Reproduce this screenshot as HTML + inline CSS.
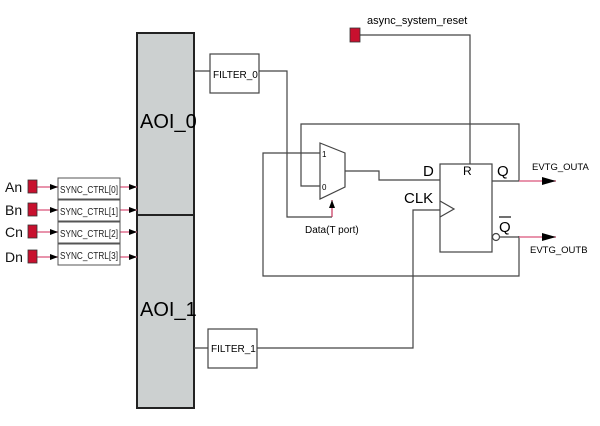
<!DOCTYPE html>
<html><head><style>body{margin:0;background:#fff}svg{display:block}text{font-family:"Liberation Sans",sans-serif}</style></head>
<body>
<svg width="600" height="426" viewBox="0 0 600 426" xmlns="http://www.w3.org/2000/svg">
<defs><marker id="a" markerWidth="8" markerHeight="6" refX="8" refY="3" orient="auto" markerUnits="userSpaceOnUse"><path d="M0,0 L8,3 L0,6 z" fill="#000"/></marker>
<marker id="b" markerWidth="14" markerHeight="8" refX="14" refY="4" orient="auto" markerUnits="userSpaceOnUse"><path d="M0,0 L14,4 L0,8 z" fill="#000"/></marker></defs>
<g fill="none" stroke="#444" stroke-width="1.2">
<rect x="137" y="33" width="57" height="375" fill="#ccd0d0" stroke="#222" stroke-width="2"/>
<line x1="137" y1="215" x2="194" y2="215" stroke="#222" stroke-width="2"/>
<rect x="210" y="54" width="49" height="39" fill="#fff"/>
<rect x="208" y="329" width="49" height="39" fill="#fff"/>
<path d="M194 71H210M259 71H287V217H332"/>
<path d="M194 348H208M257 348H413V210H440"/>
<path d="M360 35H470V164"/>
<path d="M320 153H263V276H519V236"/>
<path d="M320 186H301V124H519V181"/>
<path d="M345 171H379V180H440"/>
<polygon points="320,143 345,153 345,187 320,199" fill="#fff"/>
<rect x="440" y="164" width="52" height="88" fill="#fff"/>
<polyline points="440,201 454,209 440,217"/>
<path d="M492 181H519"/>
<circle cx="496" cy="237" r="3.5" fill="#fff"/>
<path d="M500 237H519"/>
</g>
<path d="M332 217V200" stroke="#c8325a" stroke-width="1.2" marker-end="url(#a)"/>
<g stroke="#e07090" stroke-width="1.5">
<path d="M519 181H556" marker-end="url(#b)"/>
<path d="M519 237H556" marker-end="url(#b)"/>
<path d="M37 187H58" marker-end="url(#a)"/><path d="M37 210H58" marker-end="url(#a)"/>
<path d="M37 232H58" marker-end="url(#a)"/><path d="M37 257H58" marker-end="url(#a)"/>
<path d="M120 187H137" marker-end="url(#a)"/><path d="M120 210H137" marker-end="url(#a)"/>
<path d="M120 232H137" marker-end="url(#a)"/><path d="M120 257H137" marker-end="url(#a)"/>
</g>
<g fill="#c8102e" stroke="#333" stroke-width="0.8">
<rect x="350" y="28" width="10" height="14"/>
<rect x="28" y="180" width="9" height="13"/><rect x="28" y="203" width="9" height="13"/>
<rect x="28" y="225" width="9" height="13"/><rect x="28" y="250" width="9" height="13"/>
</g>
<g fill="#fff" stroke="#555" stroke-width="1">
<rect x="58" y="178" width="62" height="21"/><rect x="58" y="200" width="62" height="21"/>
<rect x="58" y="222" width="62" height="21"/><rect x="58" y="244" width="62" height="21"/>
</g>
<g font-size="10" fill="#222">
<text x="60" y="193" textLength="58" lengthAdjust="spacingAndGlyphs">SYNC_CTRL[0]</text><text x="60" y="215" textLength="58" lengthAdjust="spacingAndGlyphs">SYNC_CTRL[1]</text>
<text x="60" y="237" textLength="58" lengthAdjust="spacingAndGlyphs">SYNC_CTRL[2]</text><text x="60" y="259" textLength="58" lengthAdjust="spacingAndGlyphs">SYNC_CTRL[3]</text>
</g>
<g font-size="14" fill="#111">
<text x="5" y="192">An</text><text x="5" y="215">Bn</text><text x="5" y="237">Cn</text><text x="5" y="262">Dn</text>
</g>
<text x="140" y="128" font-size="20">AOI_0</text>
<text x="140" y="316" font-size="20">AOI_1</text>
<text x="213" y="78" font-size="10">FILTER_0</text>
<text x="211" y="352" font-size="10">FILTER_1</text>
<text x="367" y="24" font-size="11">async_system_reset</text>
<text x="322" y="157" font-size="8">1</text><text x="322" y="190" font-size="8">0</text>
<text x="305" y="233" font-size="10">Data(T port)</text>
<text x="423" y="176" font-size="15">D</text>
<text x="404" y="203" font-size="15">CLK</text>
<text x="463" y="175" font-size="12">R</text>
<text x="497" y="176" font-size="15">Q</text>
<text x="499" y="232" font-size="15">Q</text>
<line x1="499" y1="217" x2="511" y2="217" stroke="#111" stroke-width="1.2"/>
<text x="532" y="170" font-size="9.5">EVTG_OUTA</text>
<text x="530" y="253" font-size="9.5">EVTG_OUTB</text>
</svg>
</body></html>
